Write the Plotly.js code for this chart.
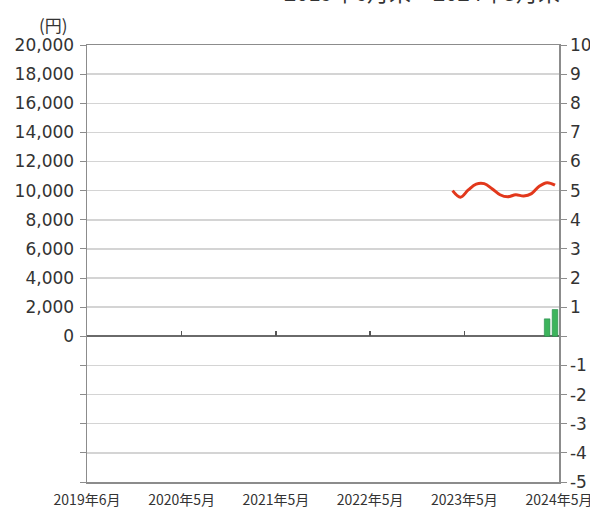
<!DOCTYPE html>
<html>
<head>
<meta charset="utf-8">
<script src="https://cdn.plot.ly/plotly-3.0.1.min.js"></script>
<style>html,body{margin:0;padding:0;background:#fff;}#chart{width:590px;height:516px;}</style>
</head>
<body>
<div id="chart"></div>
<script>
// Months of the line (基準価額, 円)
var navMonths = ['2023-04','2023-05','2023-06','2023-07','2023-08','2023-09','2023-10','2023-11','2023-12','2024-01','2024-02','2024-03','2024-04','2024-05'];
var navValues = [10000, 9550, 10050, 10450, 10480, 10130, 9720, 9580, 9720, 9640, 9800, 10310, 10550, 10380];
// Bars (純資産総額, right axis)
var assetMonths = ['2024-04','2024-05'];
var assetValues = [0.6, 0.92];
// Axis ticks
var xTickVals = ['2019-06-01','2020-06-01','2021-06-01','2022-06-01','2023-06-01','2024-06-01'];
var xTickText = ['2019年6月','2020年5月','2021年5月','2022年5月','2023年5月','2024年5月'];
var yLeftVals = [-10000,-8000,-6000,-4000,-2000,0,2000,4000,6000,8000,10000,12000,14000,16000,18000,20000];
var yLeftText = ['','','','','','0','2,000','4,000','6,000','8,000','10,000','12,000','14,000','16,000','18,000','20,000'];
var yRightVals = [-5,-4,-3,-2,-1,0,1,2,3,4,5,6,7,8,9,10];
var yRightText = ['-5','-4','-3','-2','-1','','1','2','3','4','5','6','7','8','9','10'];

var monthMs = 30 * 86400000;
var xRange = ['2019-06-01','2024-06-01'];

var traces = [
  {
    type: 'bar', x: assetMonths, y: assetValues, xaxis: 'x2', yaxis: 'y2',
    xperiod: 'M1', xperiodalignment: 'middle',
    width: 0.72 * monthMs,
    marker: {color: '#3db45c', line: {color: '#23894a', width: 0.6}},
    hoverinfo: 'skip'
  },
  {
    type: 'scatter', mode: 'lines', x: navMonths, y: navValues, xaxis: 'x', yaxis: 'y',
    xperiod: 'M1', xperiodalignment: 'middle',
    line: {color: '#e2381c', width: 3, shape: 'spline', smoothing: 1},
    hoverinfo: 'skip'
  }
];

var tickFont = {family: 'DejaVu Sans, sans-serif', size: 17, color: '#333'};

var layout = {
  width: 590, height: 516,
  margin: {l: 87, r: 31, t: 45, b: 34, pad: 0},
  paper_bgcolor: '#fff', plot_bgcolor: '#fff',
  showlegend: false,
  bargap: 0,
  xaxis: {
    type: 'date', range: xRange,
    tickmode: 'array', tickvals: xTickVals, ticktext: xTickText,
    ticks: '', showgrid: false, ticklabeloverflow: 'allow', ticklabelstandoff: 5,
    showline: true, mirror: true, linecolor: '#8c8c8c', linewidth: 1.5,
    tickfont: {family: 'Noto Sans CJK JP, sans-serif', size: 14, color: '#333'},
    zeroline: false, fixedrange: true
  },
  xaxis2: {
    type: 'date', range: xRange, overlaying: 'x', anchor: 'free', position: 1/3,
    side: 'bottom', tickmode: 'array', tickvals: xTickVals.slice(1, 5),
    ticks: 'inside', ticklen: 5, tickwidth: 1.5, tickcolor: '#555',
    showticklabels: false, showgrid: false, showline: false, zeroline: false
  },
  yaxis: {
    range: [-10000, 20000],
    tickmode: 'array', tickvals: yLeftVals, ticktext: yLeftText,
    ticks: 'outside', ticklen: 6, tickwidth: 1, tickcolor: '#8c8c8c',
    showgrid: true, gridcolor: '#d4d4d4', gridwidth: 1.5,
    zeroline: true, zerolinecolor: '#6a6a6a', zerolinewidth: 2,
    showline: true, linecolor: '#8c8c8c', linewidth: 1.5,
    tickfont: tickFont, ticklabelstandoff: 2
  },
  yaxis2: {
    range: [-5, 10], overlaying: 'y', side: 'right', anchor: 'x',
    tickmode: 'array', tickvals: yRightVals, ticktext: yRightText,
    ticks: 'outside', ticklen: 6, tickwidth: 1, tickcolor: '#8c8c8c',
    showgrid: false, zeroline: false, ticklabeloverflow: 'allow',
    showline: true, linecolor: '#8c8c8c', linewidth: 1.5,
    tickfont: tickFont
  },
  annotations: [
    {text: '(円)', xref: 'paper', yref: 'paper', x: -0.036, y: 1.048, xanchor: 'right', yanchor: 'middle',
     showarrow: false, font: {family: 'Noto Sans CJK JP, sans-serif', size: 17, color: '#333'}},
    {text: '2019年6月末～2024年5月末', xref: 'paper', yref: 'paper', x: 1.007, y: 1.083, xanchor: 'right', yanchor: 'bottom',
     showarrow: false, font: {family: 'Noto Sans CJK JP, sans-serif', size: 22, color: '#333'}}
  ]
};

Plotly.newPlot('chart', traces, layout, {displayModeBar: false, staticPlot: true});
</script>
</body>
</html>
